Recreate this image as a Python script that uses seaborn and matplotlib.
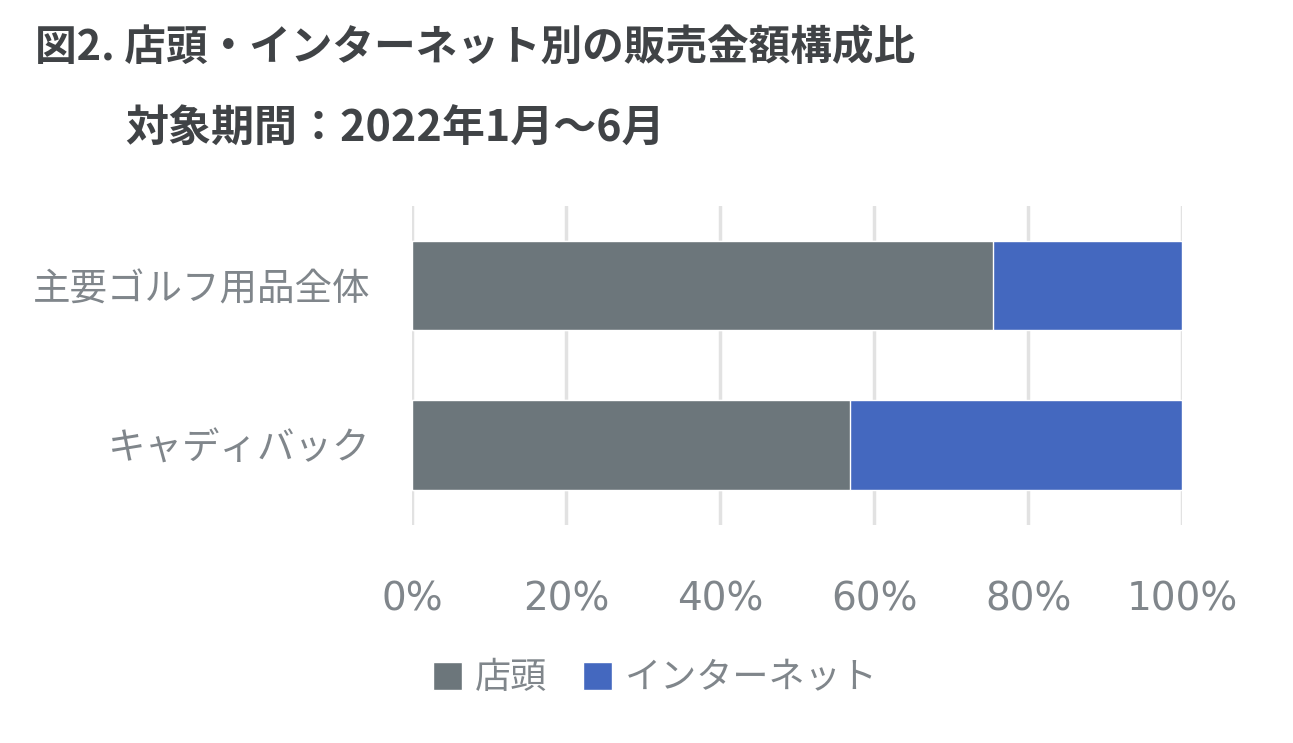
import seaborn as sns
from matplotlib import pyplot as plt
import pandas as pd

# data (share of sales, %)
categories = ['主要ゴルフ用品全体', 'キャディバック']
store_share = [75.4, 56.8]
net_share = [24.6, 43.2]
xticks = [0, 20, 40, 60, 80, 100]

title = '図2. 店頭・インターネット別の販売金額構成比'
subtitle = '対象期間：2022年1月～6月'

store_color = '#6c767b'
net_color = '#4468bf'
label_color = '#80868b'

df = pd.DataFrame({'category': categories, 'store': store_share, 'net': net_share})
df['total'] = df['store'] + df['net']

sns.set_theme(style='white')
plt.rcParams['font.family'] = ['Noto Sans CJK JP', 'DejaVu Sans']

fig = plt.figure(figsize=(12.93, 7.43), dpi=100)
ax = fig.add_axes([0.3186, 0.2937, 0.5959, 0.4294])

# stacked bars: full length in blue, store part drawn on top in gray
sns.barplot(data=df, x='total', y='category', color=net_color, width=0.56,
            saturation=1, ax=ax, label='インターネット', zorder=3)
sns.barplot(data=df, x='store', y='category', color=store_color, width=0.56,
            saturation=1, ax=ax, label='店頭', zorder=3)

ax.set_xlim(0, 100)
ax.set_ylim(1.5, -0.5)
ax.set_xticks(xticks)
ax.set_xticklabels([f'{t}%' for t in xticks], fontsize=28, color=label_color,
                   family='DejaVu Sans')
ax.set_yticks(range(len(categories)))
ax.set_yticklabels(categories, fontsize=27, color=label_color)
ax.tick_params(axis='x', length=0, pad=40)
ax.tick_params(axis='y', length=0, pad=30)
ax.xaxis.grid(True, color='#e2e2e2', linewidth=2.5, zorder=0)
ax.set_axisbelow(True)
for s in ax.spines.values():
    s.set_visible(False)
ax.set_xlabel('')
ax.set_ylabel('')

# legend: store first, then internet
handles, labels = ax.get_legend_handles_labels()
order = [labels.index('店頭'), labels.index('インターネット')]
ax.legend([handles[i] for i in order], [labels[i] for i in order],
          loc='center', bbox_to_anchor=(0.507, 0.087), bbox_transform=fig.transFigure,
          ncol=2, frameon=False, fontsize=26, labelcolor=label_color,
          handlelength=0.8, handleheight=0.8, handletextpad=0.35, columnspacing=1.0)

fig.text(0.027, 0.936, title, fontsize=30, fontweight='bold', color='#404346',
         va='center', ha='left')
fig.text(0.097, 0.826, subtitle, fontsize=31, fontweight='bold', color='#404346',
         va='center', ha='left')

plt.savefig('out.png', dpi=100)
